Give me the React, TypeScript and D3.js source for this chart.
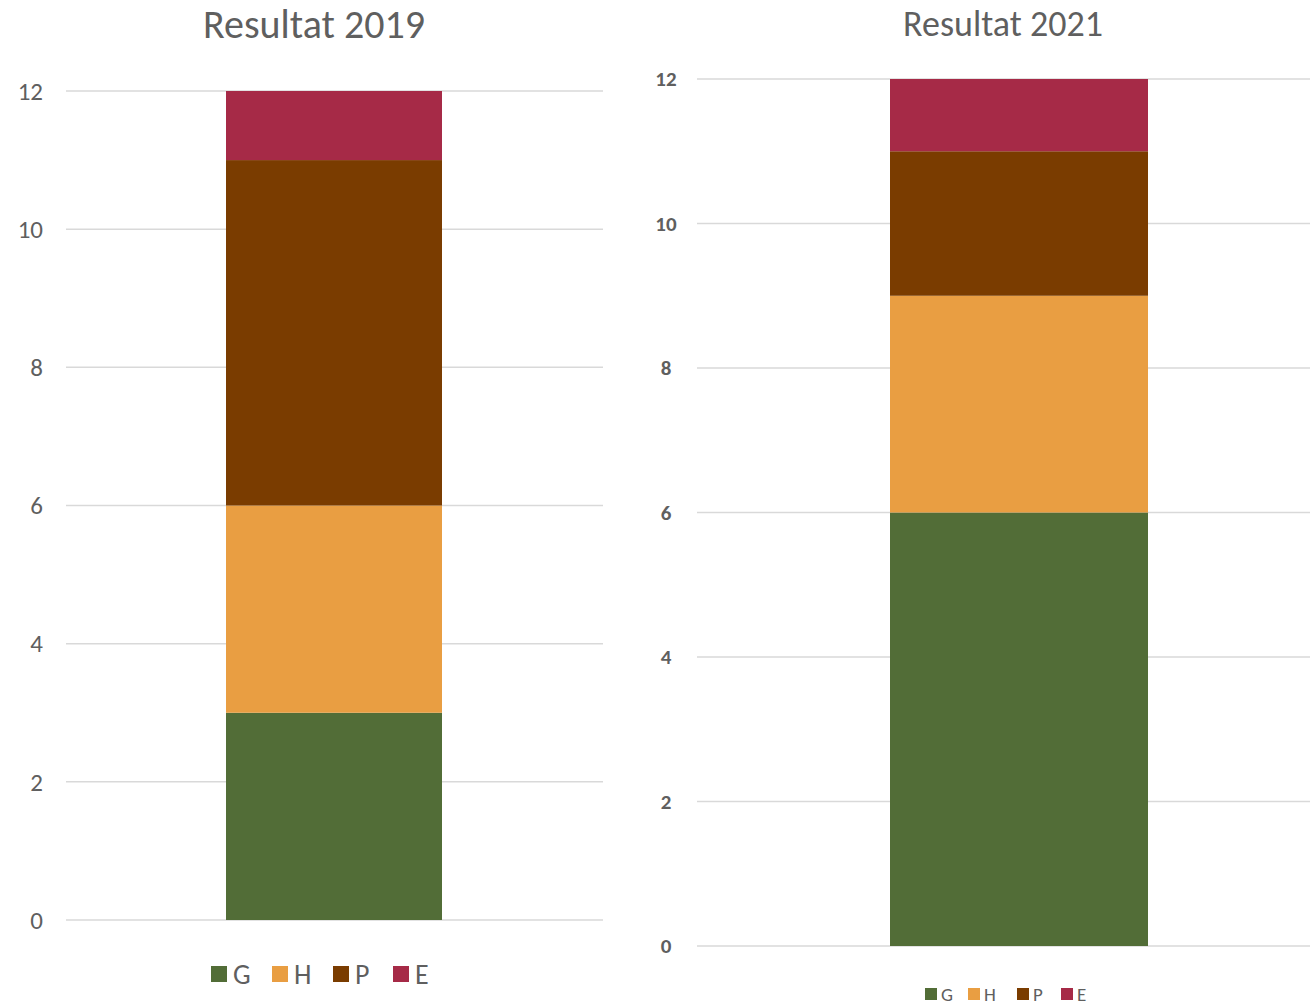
import React from "react";
import * as d3 from "d3";

const seriesKeys = ["G", "H", "P", "E"];
const seriesColors = ["#526D37", "#E99E42", "#7A3C00", "#A62A47"];
const values2019 = [3, 3, 5, 1];
const values2021 = [6, 3, 2, 1];
const tickValues = [0, 2, 4, 6, 8, 10, 12];
const titles = ["Resultat 2019", "Resultat 2021"];

const FONT = "Carlito, 'Liberation Sans Narrow', Lato, 'Open Sans', sans-serif";

type PanelCfg = {
  title: string;
  values: number[];
  titleX: number; titleY: number; titleSize: number;
  gridX0: number; gridX1: number;
  yTop: number; yBottom: number;
  barX0: number; barX1: number;
  tickX: number; tickAnchor: string; tickSize: number; tickWeight: number;
  legendY: number; legendX: number[]; legendSq: number; legendSize: number; legendGap: number;
};

function Panel({ c }: { c: PanelCfg }) {
  const y = d3.scaleLinear().domain([0, 12]).range([c.yBottom, c.yTop]);
  const x = d3.scaleBand().domain(["a"]).range([c.barX0, c.barX1]).padding(0);
  const row: any = { cat: "a" };
  seriesKeys.forEach((k, i) => (row[k] = c.values[i]));
  const stacked = d3.stack().keys(seriesKeys)([row]);
  return (
    <g>
      <text x={c.titleX} y={c.titleY} textAnchor="middle" fontSize={c.titleSize} fill="#5f5f5f" fontFamily={FONT}>{c.title}</text>
      {tickValues.map((t) => (
        <g key={t}>
          <line x1={c.gridX0} x2={c.gridX1} y1={y(t)} y2={y(t)} stroke="#d9d9d9" strokeWidth={1.5} />
          <text x={c.tickX} y={y(t)} dy="0.35em" textAnchor={c.tickAnchor as any} fontSize={c.tickSize} fontWeight={c.tickWeight} fill="#5f5f5f" fontFamily={FONT}>{t}</text>
        </g>
      ))}
      {stacked.map((s, i) => (
        <rect key={s.key} x={x("a")} width={x.bandwidth()} y={y(s[0][1])} height={y(s[0][0]) - y(s[0][1])} fill={seriesColors[i]} />
      ))}
      {seriesKeys.map((k, i) => (
        <g key={k}>
          <rect x={c.legendX[i]} y={c.legendY - c.legendSq / 2} width={c.legendSq} height={c.legendSq} fill={seriesColors[i]} />
          <text x={c.legendX[i] + c.legendSq + c.legendGap} y={c.legendY} dy="0.36em" fontSize={c.legendSize} fill="#5f5f5f" fontFamily={FONT}>{k}</text>
        </g>
      ))}
    </g>
  );
}

export default function App() {
  const left: PanelCfg = {
    title: titles[0], values: values2019,
    titleX: 314, titleY: 38, titleSize: 40,
    gridX0: 66, gridX1: 603, yTop: 91, yBottom: 920,
    barX0: 226, barX1: 442,
    tickX: 43, tickAnchor: "end", tickSize: 25, tickWeight: 400,
    legendY: 974, legendX: [211, 272, 333, 393], legendSq: 16, legendSize: 28, legendGap: 6,
  };
  const right: PanelCfg = {
    title: titles[1], values: values2021,
    titleX: 1003, titleY: 36, titleSize: 36,
    gridX0: 697, gridX1: 1310, yTop: 79, yBottom: 946,
    barX0: 890, barX1: 1148,
    tickX: 666, tickAnchor: "middle", tickSize: 21, tickWeight: 600,
    legendY: 994, legendX: [925, 968, 1017, 1061], legendSq: 12, legendSize: 19, legendGap: 4,
  };
  return (
    <div style={{ position: "absolute", left: 0, top: 0 }}>
      <svg width={1310} height={1006} style={{ display: "block", background: "#fff" }}>
        <Panel c={left} />
        <Panel c={right} />
      </svg>
    </div>
  );
}
